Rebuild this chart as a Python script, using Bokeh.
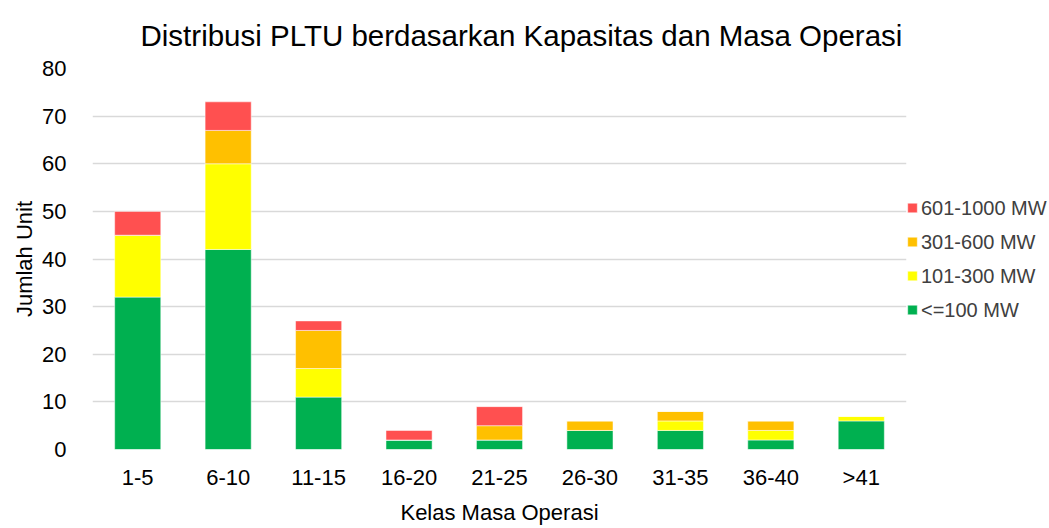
from bokeh.plotting import figure
from bokeh.models import Legend, LegendItem, Title, FixedTicker, ColumnDataSource
from bokeh.embed import file_html
from bokeh.resources import INLINE

categories = ["1-5", "6-10", "11-15", "16-20", "21-25", "26-30", "31-35", "36-40", ">41"]
le100 = [32, 42, 11, 2, 2, 4, 4, 2, 6]
mw101_300 = [13, 18, 6, 0, 0, 0, 2, 2, 1]
mw301_600 = [0, 7, 8, 0, 3, 2, 2, 2, 0]
mw601_1000 = [5, 6, 2, 2, 4, 0, 0, 0, 0]
series_names = ["<=100 MW", "101-300 MW", "301-600 MW", "601-1000 MW"]
colors = ["#00B050", "#FFFF00", "#FFC000", "#FF5050"]
keys = ["s0", "s1", "s2", "s3"]

src = ColumnDataSource(dict(cat=categories, s0=le100, s1=mw101_300, s2=mw301_600, s3=mw601_1000))

FONT = "Liberation Sans"

p = figure(x_range=categories, y_range=(0, 80), frame_width=814, frame_height=381,
           output_backend="svg", toolbar_location=None,
           min_border_left=92, min_border_right=5, min_border_top=60, min_border_bottom=62)
p.outline_line_color = None

renderers = p.vbar_stack(keys, x="cat", width=0.51, color=colors, source=src,
                         line_color="white", line_width=0.5)

items = [LegendItem(label=series_names[i], renderers=[renderers[i]]) for i in range(3, -1, -1)]
legend = Legend(items=items, location="left", orientation="vertical",
                glyph_width=12, glyph_height=12, label_height=20, spacing=11,
                padding=0, margin=0, label_standoff=3,
                label_text_font=FONT, label_text_font_size="20px", label_text_color="#404040",
                background_fill_alpha=0, border_line_color=None)
p.add_layout(legend, "right")

p.title = Title(text="Distribusi PLTU berdasarkan Kapasitas dan Masa Operasi",
                align="left", offset=48, text_font=FONT, text_font_size="29.5px",
                text_font_style="normal", text_color="#000000", standoff=33,
                text_line_height=1.0)

p.yaxis.ticker = FixedTicker(ticks=list(range(0, 81, 10)))
for ax in (p.xaxis[0], p.yaxis[0]):
    ax.axis_line_color = None
    ax.major_tick_line_color = None
    ax.minor_tick_line_color = None
    ax.major_label_text_font = FONT
    ax.major_label_text_font_size = "22px"
    ax.major_label_text_color = "#000000"
    ax.axis_label_text_font = FONT
    ax.axis_label_text_font_size = "22px"
    ax.axis_label_text_font_style = "normal"
    ax.axis_label_text_color = "#000000"

p.yaxis.axis_label = "Jumlah Unit"
p.xaxis.axis_label = "Kelas Masa Operasi"
p.yaxis.major_label_standoff = 20
p.xaxis.major_label_standoff = 9
p.yaxis.axis_label_standoff = 2
p.xaxis.axis_label_standoff = 7

p.xgrid.grid_line_color = None
p.ygrid.grid_line_color = "#D9D9D9"
p.ygrid.grid_line_width = 1.5

open("out.html", "w").write(file_html(p, INLINE))
